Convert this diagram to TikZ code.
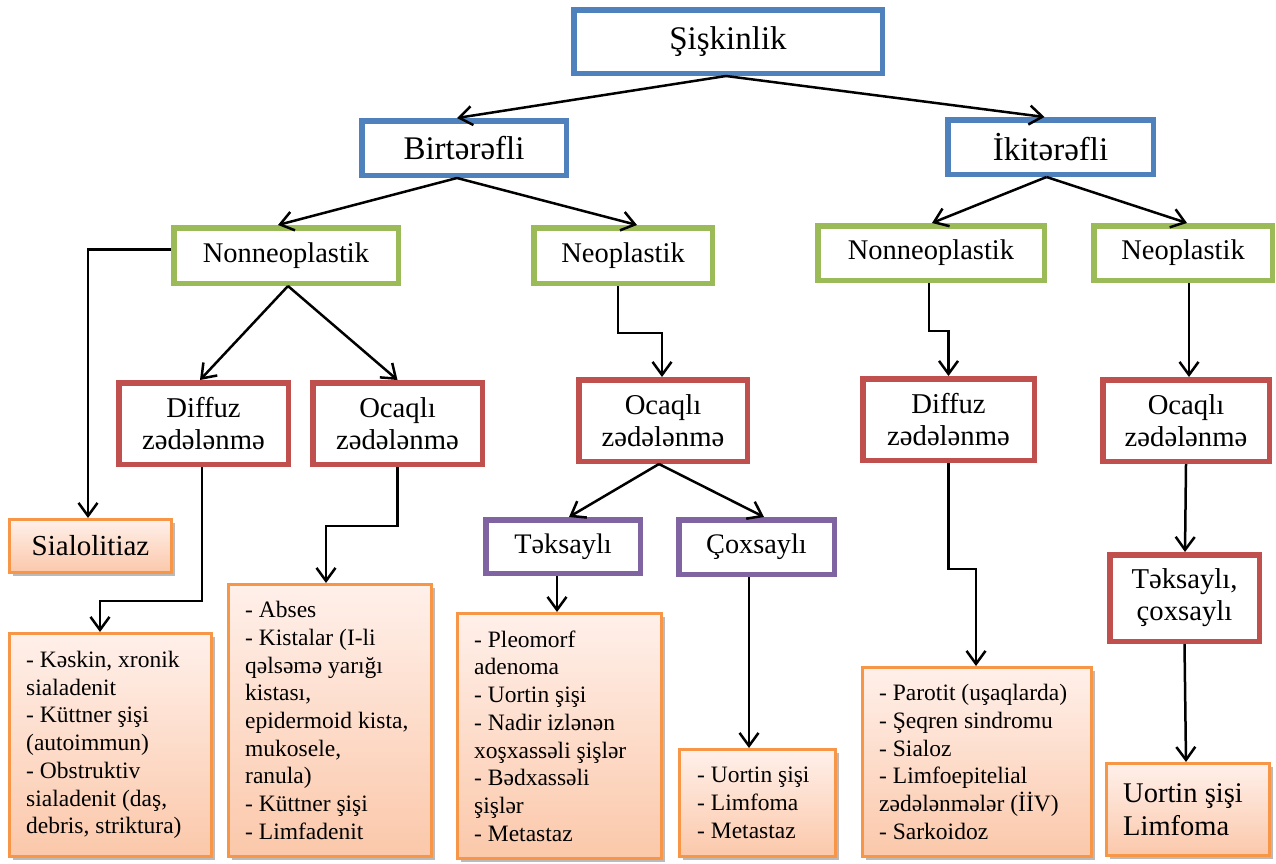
\documentclass[tikz,border=0pt]{standalone}
\usepackage{fontspec}
\setmainfont{Liberation Serif}
\usetikzlibrary{arrows.meta,shadows}
\definecolor{cblue}{HTML}{4F81BD}
\definecolor{cgreen}{HTML}{9BBB59}
\definecolor{cred}{HTML}{C0504D}
\definecolor{cpurple}{HTML}{8064A2}
\definecolor{corange}{HTML}{F79646}
\definecolor{otop}{HTML}{FFF0EA}
\definecolor{obot}{HTML}{FBC8AA}
\begin{document}
\begin{tikzpicture}[x=1pt,y=-1pt,
  box/.style={draw, rectangle, inner sep=0pt, line width=5.5pt, align=center, fill=white},
  bluebox/.style={box, draw=cblue, font=\fontsize{33}{38}\selectfont},
  greenbox/.style={box, draw=cgreen, font=\fontsize{28.5}{32}\selectfont},
  redbox/.style={box, draw=cred, font=\fontsize{28.7}{32}\selectfont},
  purplebox/.style={box, draw=cpurple, font=\fontsize{28.3}{32}\selectfont},
  orangebox/.style={draw=corange, rectangle, line width=3pt, top color=otop, bottom color=obot, inner sep=0pt,
    drop shadow={shadow xshift=3pt, shadow yshift=-3.5pt, fill=black!45, opacity=0.6}},
  listtext/.style={anchor=west, align=left, inner sep=0pt, font=\fontsize{23.5}{27.7}\selectfont},
  arr/.style={line width=2.5pt, -{Straight Barb[length=13pt,width=19pt]}}
]
\useasboundingbox (0,0) rectangle (1276,863);

% level 0-1
\node[bluebox, minimum width=308.5pt, minimum height=63.5pt] (sis) at (728,41.5) {Şişkinlik};
\node[bluebox, minimum width=204.5pt, minimum height=54.5pt] (bir) at (464,148) {Birtərəfli};
\node[bluebox, minimum width=205.5pt, minimum height=54.5pt] (iki) at (1050.5,147) {İkitərəfli};

% level 2
\node[greenbox, minimum width=224.5pt, minimum height=55.5pt] (nnL) at (286,255.5) {Nonneoplastik};
\node[greenbox, minimum width=178.5pt, minimum height=55.5pt] (neoL) at (623,255.5) {Neoplastik};
\node[greenbox, minimum width=226.5pt, minimum height=54.5pt] (nnR) at (931,253) {Nonneoplastik};
\node[greenbox, minimum width=178.5pt, minimum height=54.5pt] (neoR) at (1183,253) {Neoplastik};

% level 3
\node[redbox, minimum width=169.5pt, minimum height=81.5pt] (difL) at (203.5,423.5) {Diffuz\\zədələnmə};
\node[redbox, minimum width=169.5pt, minimum height=81.5pt] (ocL) at (397.5,423.5) {Ocaqlı\\zədələnmə};
\node[redbox, minimum width=168.5pt, minimum height=81.5pt] (ocM) at (663,420.5) {Ocaqlı\\zədələnmə};
\node[redbox, minimum width=171.5pt, minimum height=81.5pt] (difR) at (948.5,419.5) {Diffuz\\zədələnmə};
\node[redbox, minimum width=166.5pt, minimum height=81.5pt] (ocR) at (1186,420.5) {Ocaqlı\\zədələnmə};

% level 4
\node[purplebox, minimum width=154.5pt, minimum height=53.5pt] (tek) at (563,546.5) {Təksaylı};
\node[purplebox, minimum width=155.5pt, minimum height=54.5pt] (cox) at (756.5,547) {Çoxsaylı};
\node[redbox, minimum width=149.5pt, minimum height=86.5pt] (tc) at (1184.5,598) {Təksaylı,\\çoxsaylı};

% orange boxes
\node[orangebox, minimum width=162pt, minimum height=53pt, font=\fontsize{29}{33}\selectfont] (sial) at (90.5,546) {Sialolitiaz\hspace{8pt}};
\node[orangebox, minimum width=202pt, minimum height=223pt] (bA) at (110.5,745) {};
\node[orangebox, minimum width=203pt, minimum height=272pt] (bB) at (330,720.5) {};
\node[orangebox, minimum width=204pt, minimum height=245pt] (bC) at (559.5,736) {};
\node[orangebox, minimum width=156pt, minimum height=107pt] (bD) at (757.5,803) {};
\node[orangebox, minimum width=229pt, minimum height=189pt] (bE) at (977,762) {};
\node[orangebox, minimum width=163pt, minimum height=92pt] (bG) at (1188,809.5) {};

\node[listtext] (tA) at ([xshift=18pt]bA.west) {- Kəskin, xronik\\sialadenit\\- Küttner şişi\\(autoimmun)\\- Obstruktiv\\sialadenit (daş,\\debris, striktura)};
\node[listtext] (tB) at ([xshift=18pt]bB.west) {- Abses\\- Kistalar (I-li\\qəlsəmə yarığı\\kistası,\\epidermoid kista,\\mukosele,\\ranula)\\- Küttner şişi\\- Limfadenit};
\node[listtext] (tC) at ([xshift=18pt]bC.west) {- Pleomorf\\adenoma\\- Uortin şişi\\- Nadir izlənən\\xoşxassəli şişlər\\- Bədxassəli\\şişlər\\- Metastaz};
\node[listtext] (tD) at ([xshift=19pt]bD.west) {- Uortin şişi\\- Limfoma\\- Metastaz};
\node[listtext] (tE) at ([xshift=18pt]bE.west) {- Parotit (uşaqlarda)\\- Şeqren sindromu\\- Sialoz\\- Limfoepitelial\\zədələnmələr (İİV)\\- Sarkoidoz};
\node[listtext, font=\fontsize{28.5}{33}\selectfont] (tG) at ([xshift=18pt]bG.west) {Uortin şişi\\Limfoma};

% connectors
\draw[arr] ([xshift=-2pt]sis.south) -- ([xshift=-7pt]bir.north);
\draw[arr] ([xshift=-2pt]sis.south) -- ([xshift=-6pt]iki.north);
\draw[arr] ([xshift=-7pt]bir.south) -- ([xshift=-8pt]nnL.north);
\draw[arr] ([xshift=-7pt]bir.south) -- ([xshift=14pt]neoL.north);
\draw[arr] ([xshift=-4pt]iki.south) -- ([xshift=1pt]nnR.north);
\draw[arr] ([xshift=-4pt]iki.south) -- ([xshift=4pt]neoR.north);

\draw[arr] ([yshift=6pt]nnL.west) -| ([xshift=-2.5pt]sial.north);
\draw[arr] ([xshift=2pt]nnL.south) -- ([xshift=-3.5pt]difL.north);
\draw[arr] ([xshift=2pt]nnL.south) -- (ocL.north);
\draw[arr] ([xshift=-5pt]neoL.south) -- ++(0,47) -| ([xshift=-1pt]ocM.north);
\draw[arr] ([xshift=-2pt]nnR.south) -- ++(0,48) -| (difR.north);
\draw[arr] ([xshift=6pt]neoR.south) -- ([xshift=3pt]ocR.north);

\draw[arr] ([xshift=-4pt]ocM.south) -- ([xshift=6pt]tek.north);
\draw[arr] ([xshift=-4pt]ocM.south) -- ([xshift=7.5pt]cox.north);

\draw[arr] ([xshift=-1.5pt]difL.south) -- ++(0,134) -| ([xshift=-10.5pt]bA.north);
\draw[arr] (ocL.south) -- ++(0,59) -| ([xshift=-4pt]bB.north);
\draw[arr] ([xshift=-6pt]tek.south) -- ([xshift=-2.5pt]bC.north);
\draw[arr] ([xshift=-7.5pt]cox.south) -- ([xshift=-8.5pt]bD.north);
\draw[arr] (difR.south) -- ++(0,106) -| ([xshift=-1pt]bE.north);
\draw[arr] (ocR.south) -- ([xshift=0.5pt]tc.north);
\draw[arr] (tc.south) -- ([xshift=-2pt]bG.north);
\end{tikzpicture}
\end{document}
